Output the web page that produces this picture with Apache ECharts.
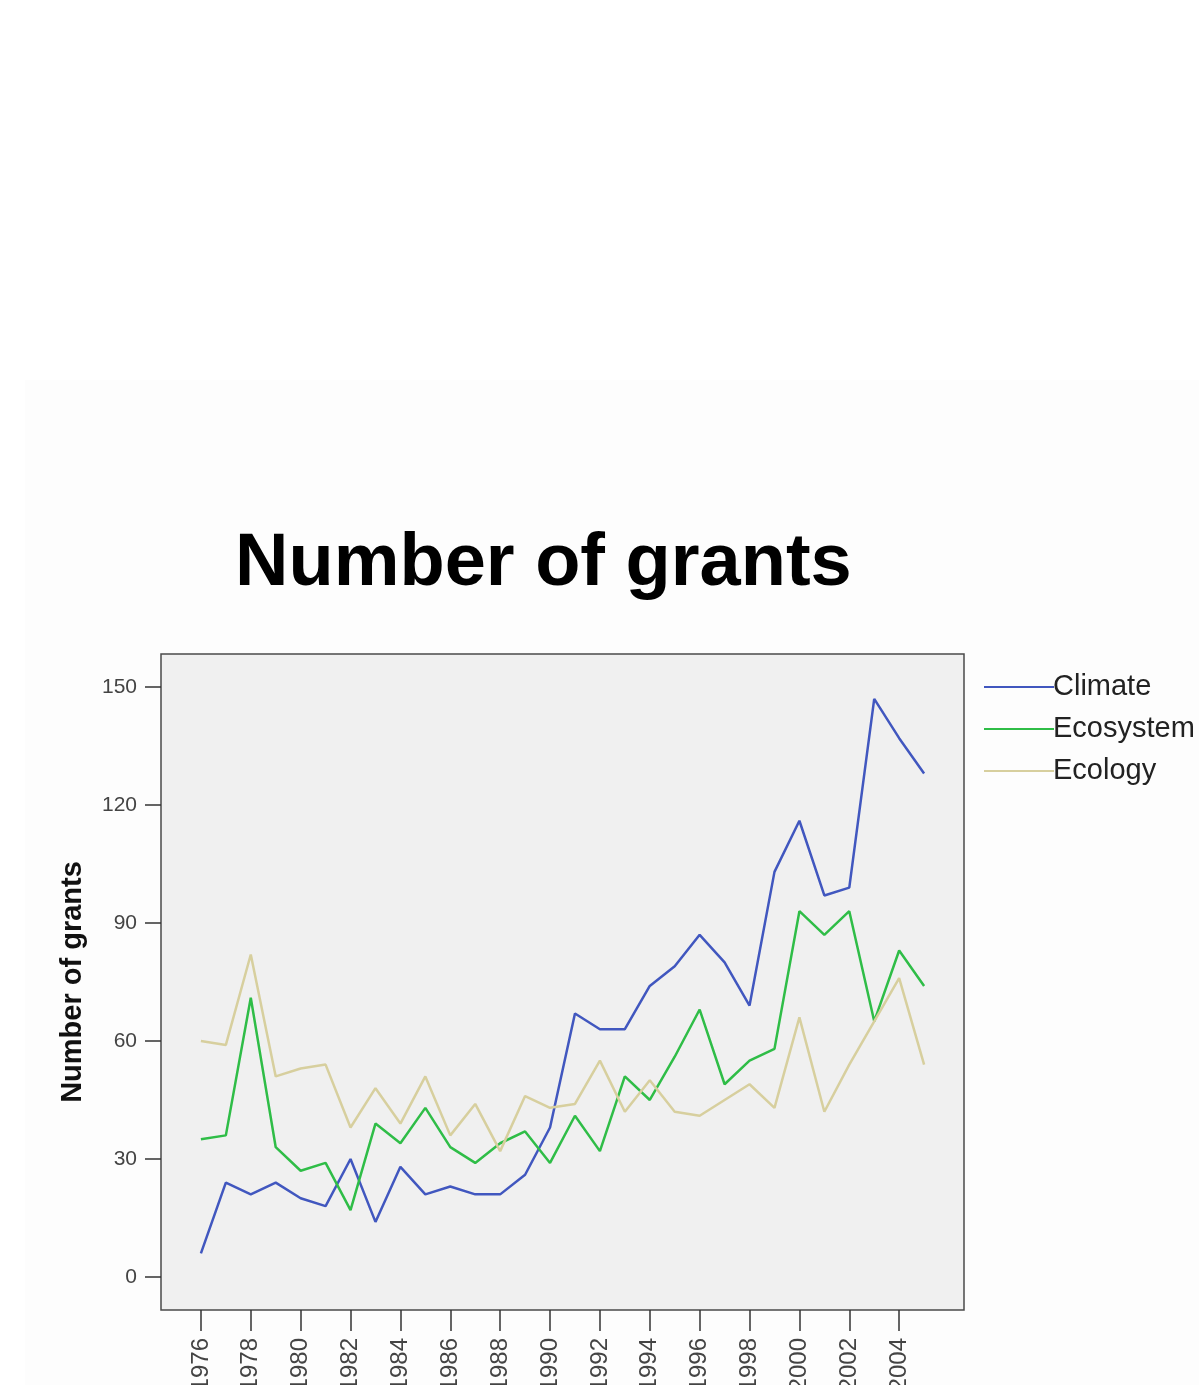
<!DOCTYPE html>
<html>
<head>
<meta charset="utf-8">
<script src="https://cdn.jsdelivr.net/npm/echarts@6/dist/echarts.min.js"></script>
<style>
html,body{margin:0;padding:0;background:#ffffff;}
#chart{width:1199px;height:1385px;}
</style>
</head>
<body>
<div id="chart"></div>
<script>
var years = [1976,1977,1978,1979,1980,1981,1982,1983,1984,1985,1986,1987,1988,1989,1990,
             1991,1992,1993,1994,1995,1996,1997,1998,1999,2000,2001,2002,2003,2004,2005];
var climate   = [6,24,21,24,20,18,30,14,28,21,23,21,21,26,38,67,63,63,74,79,87,80,69,103,116,97,99,147,137,128];
var ecosystem = [35,36,71,33,27,29,17,39,34,43,33,29,34,37,29,41,32,51,45,56,68,49,55,58,93,87,93,65,83,74];
var ecology   = [60,59,82,51,53,54,38,48,39,51,36,44,32,46,43,44,55,42,50,42,41,45,49,43,66,42,54,65,76,54];
var xTickLabels = [1976,1978,1980,1982,1984,1986,1988,1990,1992,1994,1996,1998,2000,2002,2004];
var yTickLabels = [0,30,60,90,120,150];

function pairs(vals){ return years.map(function(y,i){ return [y, vals[i]]; }); }

var chart = echarts.init(document.getElementById('chart'), null, {renderer:'canvas'});
chart.setOption({
  backgroundColor: '#ffffff',
  animation: false,
  graphic: [{
    type: 'rect', z: -100, silent: true,
    shape: {x: 25, y: 380, width: 1174, height: 1005},
    style: {fill: '#fdfdfd'}
  }],
  title: {
    text: 'Number of grants',
    left: 230, top: 523,
    textStyle: {fontFamily: 'Liberation Sans, Arial, sans-serif', fontWeight: 'bold', fontSize: 74, color: '#000'}
  },
  legend: {
    orient: 'vertical',
    left: 979, top: 665,
    icon: 'rect',
    itemWidth: 70, itemHeight: 2, itemGap: 8,
    textStyle: {fontFamily: 'Liberation Sans, Arial, sans-serif', fontSize: 29, color: '#222', lineHeight: 34, padding: [0,0,0,-6]},
    data: ['Climate','Ecosystem','Ecology']
  },
  grid: {
    left: 161, top: 654, right: 235, bottom: 75,
    outerBoundsMode: 'none', containLabel: false,
    show: true, backgroundColor: '#f0f0f0', borderColor: '#4a4a4a', borderWidth: 1.5
  },
  xAxis: {
    type: 'value', min: 1974.4, max: 2006.6,
    splitLine: {show: false},
    axisLine: {show: false, onZero: false},
    axisTick: {show: true, customValues: xTickLabels, length: 21, lineStyle: {color: '#333', width: 1.5}},
    axisLabel: {show: true, customValues: xTickLabels, rotate: 90, margin: 28,
      fontFamily: 'Liberation Sans, Arial, sans-serif', fontSize: 24, color: '#444',
      formatter: function(v){ return String(v); }}
  },
  yAxis: {
    type: 'value', min: -8.4, max: 158.4,
    name: 'Number of grants', nameLocation: 'middle', nameGap: 74, nameRotate: 90,
    nameTextStyle: {fontFamily: 'Liberation Sans, Arial, sans-serif', fontWeight: 'bold', fontSize: 29, color: '#111'},
    splitLine: {show: false},
    axisLine: {show: false, onZero: false},
    axisTick: {show: true, customValues: yTickLabels, length: 16, lineStyle: {color: '#333', width: 1.5}},
    axisLabel: {show: true, customValues: yTickLabels, margin: 24,
      fontFamily: 'Liberation Sans, Arial, sans-serif', fontSize: 21, color: '#444'}
  },
  series: [
    {name: 'Climate', type: 'line', data: pairs(climate), symbol: 'none',
      lineStyle: {color: '#4157bf', width: 2.5}, itemStyle: {color: '#4157bf'}},
    {name: 'Ecosystem', type: 'line', data: pairs(ecosystem), symbol: 'none',
      lineStyle: {color: '#2fbd47', width: 2.5}, itemStyle: {color: '#2fbd47'}},
    {name: 'Ecology', type: 'line', data: pairs(ecology), symbol: 'none',
      lineStyle: {color: '#d7cf9e', width: 2.5}, itemStyle: {color: '#d7cf9e'}}
  ]
});
</script>
</body>
</html>
